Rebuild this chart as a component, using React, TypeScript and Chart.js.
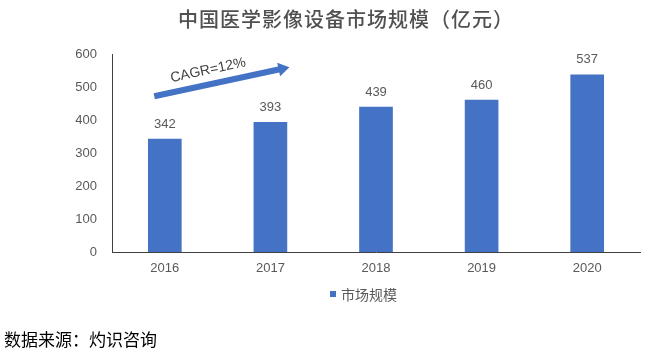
import React, { useEffect, useRef } from "react";
import { Chart, registerables } from "chart.js";

Chart.register(...registerables);

const years = ["2016", "2017", "2018", "2019", "2020"];
const marketSize = [342, 393, 439, 460, 537];
const yMax = 600;
const yStep = 100;
const titleText = "中国医学影像设备市场规模（亿元）";
const seriesName = "市场规模";
const sourceText = "数据来源：灼识咨询";
const cagrLabel = "CAGR=12%";
// arrow anchors in data space (category index + fractional offset, value)
const arrowStart = [-0.1, 472];
const arrowEnd = [1.18, 560];

const BLUE = "#4472C4";
const GRAY = "#595959";
const SANS = "'Liberation Sans', 'Noto Sans CJK SC', sans-serif";
const CJK = "'Noto Sans CJK SC', sans-serif";

const decorPlugin = {
  id: "decor",
  afterDatasetsDraw(chart: any) {
    const ctx = chart.ctx;
    const meta = chart.getDatasetMeta(0);
    ctx.save();
    ctx.fillStyle = GRAY;
    ctx.font = `13px ${SANS}`;
    ctx.textAlign = "center";
    ctx.textBaseline = "middle";
    meta.data.forEach((bar: any, i: number) => {
      ctx.fillText(String(marketSize[i]), bar.x, bar.y - 15);
    });
    ctx.restore();
  },
  afterDraw(chart: any) {
    const ctx = chart.ctx;
    const xs = chart.scales.x;
    const ys = chart.scales.y;
    ctx.save();
    // title
    ctx.fillStyle = "#505050";
    ctx.font = `500 20px ${CJK}`;
    (ctx as any).letterSpacing = "1px";
    ctx.textAlign = "left";
    ctx.textBaseline = "middle";
    ctx.fillText(titleText, 178, 19);
    (ctx as any).letterSpacing = "0px";

    // legend
    const lx = 330;
    const ly = 294;
    ctx.fillStyle = BLUE;
    ctx.fillRect(lx, ly - 3, 6, 6);
    ctx.fillStyle = GRAY;
    ctx.font = `14px ${CJK}`;
    ctx.textAlign = "left";
    ctx.fillText(seriesName, lx + 11, ly + 1);

    // source
    ctx.fillStyle = "#000";
    ctx.font = `17px ${CJK}`;
    ctx.fillText(sourceText, 4, 340);

    // arrow
    const catW = xs.getPixelForValue(1) - xs.getPixelForValue(0);
    const x0 = xs.getPixelForValue(0) + arrowStart[0] * catW;
    const y0 = ys.getPixelForValue(arrowStart[1]);
    const x1 = xs.getPixelForValue(0) + arrowEnd[0] * catW;
    const y1 = ys.getPixelForValue(arrowEnd[1]);
    const ang = Math.atan2(y1 - y0, x1 - x0);
    const len = Math.hypot(x1 - x0, y1 - y0);
    ctx.translate(x0, y0);
    ctx.rotate(ang);
    ctx.fillStyle = BLUE;
    const headL = 11;
    const shaftH = 3;
    const headH = 7;
    ctx.beginPath();
    ctx.moveTo(0, -shaftH);
    ctx.lineTo(len - headL, -shaftH);
    ctx.lineTo(len - headL, -headH);
    ctx.lineTo(len, 0);
    ctx.lineTo(len - headL, headH);
    ctx.lineTo(len - headL, shaftH);
    ctx.lineTo(0, shaftH);
    ctx.closePath();
    ctx.fill();
    // CAGR text
    ctx.fillStyle = "#404040";
    ctx.font = `14px ${SANS}`;
    ctx.textAlign = "center";
    ctx.textBaseline = "middle";
    ctx.fillText(cagrLabel, len * 0.42, -14);
    ctx.restore();
  },
};

export default function App() {
  const ref = useRef<HTMLCanvasElement>(null);
  useEffect(() => {
    if (!ref.current) return;
    const chart = new Chart(ref.current, {
      type: "bar",
      data: {
        labels: years,
        datasets: [
          {
            label: seriesName,
            data: marketSize,
            backgroundColor: BLUE,
            barThickness: 33,
          },
        ],
      },
      options: {
        responsive: false,
        animation: false,
        devicePixelRatio: 1,
        layout: { padding: { top: 54, right: 13, bottom: 0, left: 0 } },
        plugins: {
          legend: { display: false },
          title: { display: false },
          tooltip: { enabled: false },
        },
        scales: {
          x: {
            grid: { display: false, drawTicks: false },
            border: { display: true, color: "#404040", width: 1 },
            ticks: { color: GRAY, font: { size: 13, family: SANS }, padding: 9 },
            afterFit: (s: any) => {
              s.height = 105;
            },
          },
          y: {
            min: 0,
            max: yMax,
            grid: { display: false, drawTicks: false },
            border: { display: true, color: "#404040", width: 1 },
            ticks: {
              stepSize: yStep,
              color: GRAY,
              font: { size: 13, family: SANS },
              padding: 15,
            },
            afterFit: (s: any) => {
              s.width = 112;
            },
          },
        },
      },
      plugins: [decorPlugin],
    });
    return () => chart.destroy();
  }, []);
  return (
    <div style={{ position: "fixed", left: 0, top: 0, width: 653, height: 357, background: "#fff" }}>
      <canvas ref={ref} width={653} height={357} style={{ display: "block" }} />
    </div>
  );
}
